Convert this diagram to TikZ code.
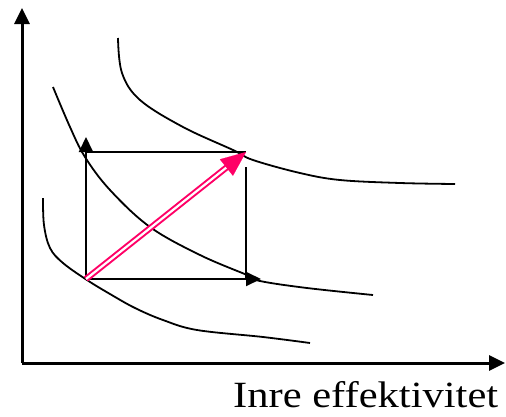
\documentclass[tikz,border=0pt]{standalone}
\usepackage{fontspec}
\setmainfont{Liberation Serif}
\usetikzlibrary{arrows.meta,calc}
\definecolor{pinkc}{RGB}{255,0,102}
\begin{document}
\begin{tikzpicture}[x=1pt,y=-1pt,
  axis/.style={line width=3pt,-{Triangle[length=16pt,width=15pt]}},
  curve/.style={line width=1.8pt,smooth,tension=0.6},
  edge/.style={line width=2pt},
  edgearrow/.style={line width=2pt,-{Triangle[length=15pt,width=14pt]}},
  label/.style={font=\fontsize{37}{40}\selectfont,inner sep=0pt,anchor=base west}]
\useasboundingbox (0,0) rectangle (506,416);
% axes
\coordinate (O) at (22,363);
\coordinate (Ytop) at (22,8);
\coordinate (Xend) at (505,363);
\draw[axis] (O) -- (Ytop);
\draw[axis] (O) -- (Xend);
% curves
\draw[curve] plot coordinates {(118,38) (122,73) (140,100) (183,127) (233,150) (253,160) (300,173) (340,180) (400,183) (455,184)};
\draw[curve] plot coordinates {(53,87) (70,127) (85,157) (110,190) (150,227) (200,255) (247,275) (260,281) (307,288) (373,295)};
\draw[curve] plot coordinates {(43,198) (44,225) (50,248) (63,263) (87,280) (110,294) (135,308) (163,320) (197,330) (263,337) (310,343)};
% rectangle
\coordinate (A) at (86,279);
\coordinate (B) at (246,279);
\coordinate (C) at (246,152);
\coordinate (D) at (86,152);
\coordinate (Dtip) at (86,137);
\coordinate (Btip) at (261,279);
\coordinate (Ctop) at (246,167);
\draw[edgearrow] (A) -- (Dtip);
\draw[edgearrow] (A) -- (Btip);
\draw[edge] (D) -- (C);
\draw[edge] (B) -- (Ctop);
% pink double arrow
\draw[pinkc,line width=2pt,double=white,double distance=2.2pt,shorten >=20pt] (A) -- (C);
\draw[pinkc,line width=0.1pt,-{Triangle[length=25pt,width=21pt]}] ($(C)!26pt!(A)$) -- (C);
% label
\node[label] (lab) at (233,407) {\scalebox{1.15}[1]{Inre effektivitet}};
\end{tikzpicture}
\end{document}
